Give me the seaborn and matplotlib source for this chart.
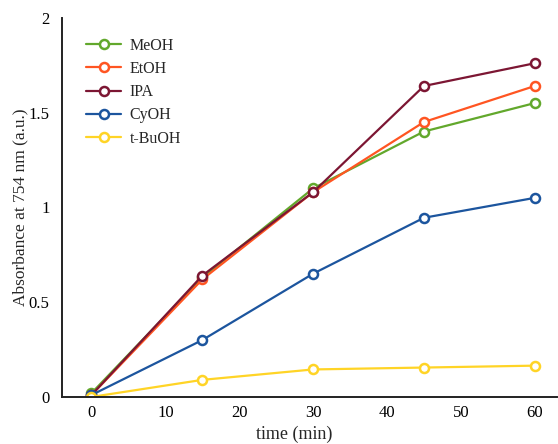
import matplotlib
matplotlib.use("Agg")
import matplotlib.pyplot as plt
from matplotlib.ticker import MultipleLocator
import seaborn as sns
import pandas as pd

sns.set_theme(style="white")
plt.rcParams['font.family'] = ['Liberation Serif', 'DejaVu Serif']

# data
time_min = [0, 15, 30, 45, 60]
solvents = ["MeOH", "EtOH", "IPA", "CyOH", "t-BuOH"]
meoh = [0.02, 0.63, 1.10, 1.40, 1.55]
etoh = [0.01, 0.62, 1.08, 1.45, 1.64]
ipa = [0.01, 0.64, 1.08, 1.64, 1.76]
cyoh = [0.01, 0.30, 0.65, 0.945, 1.05]
tbuoh = [0.00, 0.09, 0.145, 0.155, 0.165]
colors = ["#62a82c", "#ff5522", "#7c1633", "#1c559e", "#ffd426"]

values = [meoh, etoh, ipa, cyoh, tbuoh]
df = pd.DataFrame({
    "time": time_min * len(solvents),
    "absorbance": [v for series in values for v in series],
    "solvent": [s for s in solvents for _ in time_min],
})

fig = plt.figure(figsize=(5.58, 4.44), dpi=100)
ax = fig.add_axes([0.111, 0.106, 0.887, 0.854])

sns.lineplot(data=df, x="time", y="absorbance", hue="solvent",
             hue_order=solvents, palette=colors, marker="o",
             markersize=6.5, linewidth=1.6, legend=False, ax=ax)

# hollow markers: white face, coloured edge
for line in ax.lines:
    line.set_markerfacecolor("white")
    line.set_markeredgecolor(line.get_color())
    line.set_markeredgewidth(1.8)

ax.legend(ax.lines[:len(solvents)], solvents, loc="upper left",
          bbox_to_anchor=(0.02, 0.985), frameon=False, fontsize=11.5,
          handlelength=2.2, labelspacing=0.45, handletextpad=0.5)

ax.set_xlim(-4, 63)
ax.set_ylim(0, 2)
ax.xaxis.set_major_locator(MultipleLocator(10))
ax.xaxis.set_minor_locator(MultipleLocator(5))
ax.yaxis.set_major_locator(MultipleLocator(0.5))
ax.yaxis.set_minor_locator(MultipleLocator(0.25))
ax.set_yticks([0, 0.5, 1, 1.5, 2])
ax.set_yticklabels(["0", "0.5", "1", "1.5", "2"])

ax.tick_params(which="both", direction="in", labelsize=12, colors="black")
ax.tick_params(which="major", length=6, width=1.2)
ax.tick_params(which="minor", length=3.5, width=1.2)
ax.tick_params(axis="x", pad=6)
ax.tick_params(axis="y", pad=9)

for side in ["top", "right"]:
    ax.spines[side].set_visible(False)
for side in ["left", "bottom"]:
    ax.spines[side].set_color("#222222")
    ax.spines[side].set_linewidth(1.4)

ax.set_xlabel("time (min)", fontsize=13, labelpad=1)
ax.xaxis.set_label_coords(0.47, -0.075)
ax.set_ylabel("Absorbance at 754 nm (a.u.)", fontsize=12.5, labelpad=0)

fig.savefig("out.png", dpi=100)
